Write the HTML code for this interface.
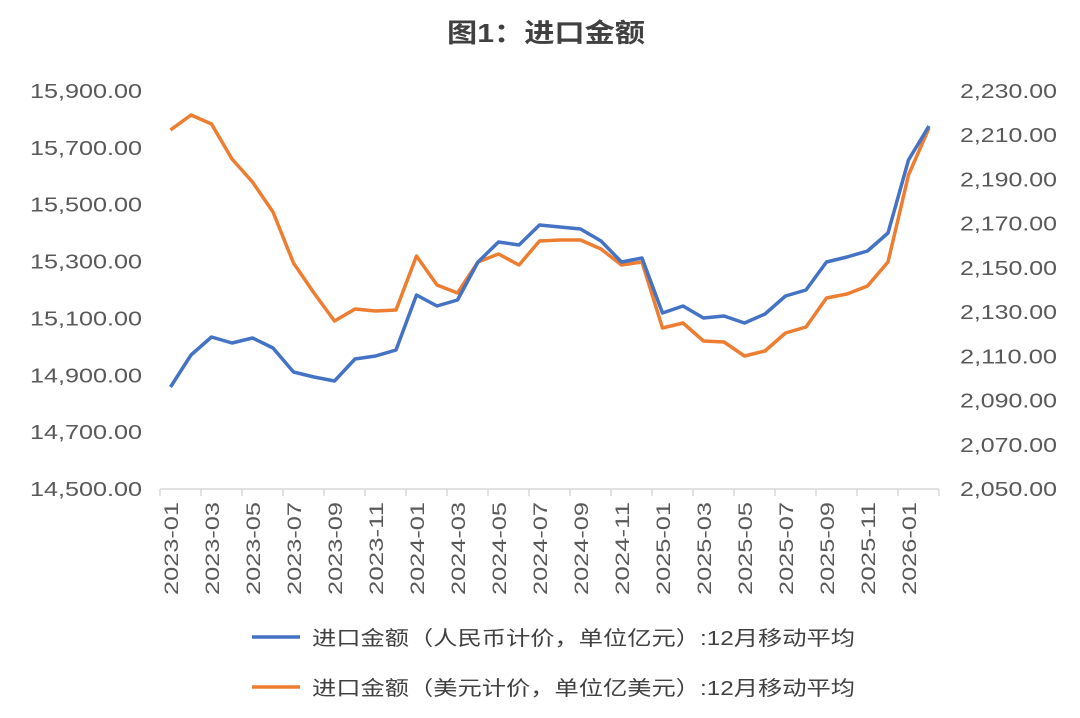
<!DOCTYPE html>
<html><head><meta charset="utf-8"><style>
body{margin:0;background:#fff;}
svg text{font-family:"Liberation Sans","Noto Sans CJK SC",sans-serif;}
</style></head><body>
<svg width="1080" height="713" viewBox="0 0 1080 713" xmlns="http://www.w3.org/2000/svg">
<text x="447" y="42" textLength="198" lengthAdjust="spacingAndGlyphs" font-size="26" font-weight="bold" fill="#404040">图1：进口金额</text>
<g font-size="20" fill="#595959" id="left"></g>
<g font-size="20" fill="#595959" id="right"></g>
<g stroke="#d9d9d9" stroke-width="1.5">
<line x1="160" y1="489" x2="939" y2="489"/>
</g>
<g stroke="#d9d9d9" stroke-width="1.5" id="ticks"></g>
<g id="labels" font-size="19" fill="#595959"></g>
<polyline id="o" fill="none" stroke="#ED7D31" stroke-width="3.5" stroke-linejoin="round"/>
<polyline id="b" fill="none" stroke="#4472C4" stroke-width="3.5" stroke-linejoin="round"/>
<line x1="252" y1="637" x2="300" y2="637" stroke="#4472C4" stroke-width="3.5"/>
<text x="312" y="645" font-size="20" textLength="543" lengthAdjust="spacingAndGlyphs" fill="#404040">进口金额（人民币计价，单位亿元）:12月移动平均</text>
<line x1="252" y1="687" x2="300" y2="687" stroke="#ED7D31" stroke-width="3.5"/>
<text x="312" y="695" font-size="20" textLength="543" lengthAdjust="spacingAndGlyphs" fill="#404040">进口金额（美元计价，单位亿美元）:12月移动平均</text>
</svg>
<script>
var B=[387,355,337,343,338,348,372,377,381,359,356,350,295,306,300,262,242,245,225,227,229,241,262,258,313,306,318,316,323,314,296,290,262,257,251,233,160,126];
var O=[130,115,124,159,182,212,263,293,321,309,311,310,256,285,293,262,254,265,241,240,240,249,265,262,328,323,341,342,356,351,333,327,298,294,286,262,175,128];
function pts(a){return a.map(function(y,i){return (170.5+20.5*i).toFixed(1)+","+y}).join(" ");}
document.getElementById("b").setAttribute("points",pts(B));
document.getElementById("o").setAttribute("points",pts(O));
var ns="http://www.w3.org/2000/svg",t=document.getElementById("ticks"),l=document.getElementById("labels");
function txt(p,x,y,s,len){var e=document.createElementNS(ns,"text");e.setAttribute("x",x);e.setAttribute("y",y);e.setAttribute("textLength",len);e.setAttribute("lengthAdjust","spacingAndGlyphs");e.textContent=s;p.appendChild(e);return e;}
var L=["15,900.00","15,700.00","15,500.00","15,300.00","15,100.00","14,900.00","14,700.00","14,500.00"];
L.forEach(function(s,i){txt(document.getElementById("left"),30,98+56.86*i,s,112);});
var R=["2,230.00","2,210.00","2,190.00","2,170.00","2,150.00","2,130.00","2,110.00","2,090.00","2,070.00","2,050.00"];
R.forEach(function(s,i){txt(document.getElementById("right"),960,98+44.22*i,s,97);});
for(var k=0;k<=19;k++){var x=160+41*k;var ln=document.createElementNS(ns,"line");ln.setAttribute("x1",x);ln.setAttribute("x2",x);ln.setAttribute("y1",489);ln.setAttribute("y2",496);t.appendChild(ln);}
for(var k=0;k<19;k++){var m=k*2;var yr=2023+Math.floor(m/12),mo=m%12+1;var s=yr+"-"+(mo<10?"0":"")+mo;var cx=171+41*k+7;var tx=document.createElementNS(ns,"text");tx.setAttribute("transform","translate("+cx+",595) rotate(-90)");tx.setAttribute("textLength",93);tx.setAttribute("lengthAdjust","spacingAndGlyphs");tx.textContent=s;l.appendChild(tx);}
</script>
</body></html>
